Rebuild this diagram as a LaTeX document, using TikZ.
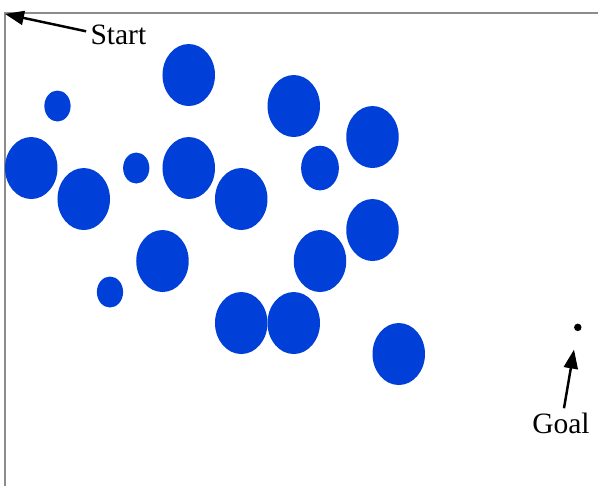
\documentclass[tikz,border=0pt]{standalone}
\usepackage{fontspec}
\setmainfont{Liberation Serif}
\usepackage{tikz}
\usetikzlibrary{arrows.meta,positioning}
\usepackage{xcolor}
\definecolor{obstblue}{RGB}{0,64,216}
\definecolor{framegrey}{RGB}{140,140,140}

\begin{document}
\begin{tikzpicture}[
    x=0.525cm, y=-0.62cm,
    obstacle/.style={fill=obstblue},
    pointer/.style={-{Triangle[length=0.38cm,width=0.28cm]}, line width=1.4pt},
    marker/.style={font=\fontsize{16.8}{20}\selectfont, inner sep=0.08cm},
    >=Stealth
]
\useasboundingbox (-0.19,-0.42) rectangle (22.59,15.26);

% field border
\draw[framegrey, line width=1.2pt] (0,15.26) |- (22.59,0);

% obstacles: x, y, radius
\foreach \cx/\cy/\r in {7/2/1, 2/3/0.5, 11/3/1, 14/4/1, 1/5/1, 5/5/0.5,
    7/5/1, 12/5/0.72, 3/6/1, 9/6/1, 14/7/1, 6/8/1, 12/8/1, 4/9/0.5,
    9/10/1, 11/10/1, 15/11/1}
    \fill[obstacle] (\cx,\cy) ellipse [x radius=\r*0.525cm, y radius=\r*0.62cm];

\coordinate (corner) at (0,0.03);
\coordinate (goal) at (21.82,10.14);
\fill (goal) circle [radius=0.075cm];

\node[marker, anchor=base] (starttxt) at (4.32,1.03) {Start};
\node[marker, anchor=base] (goaltxt) at (21.18,13.55) {Goal};

\draw[pointer] ([yshift=0.08cm]starttxt.west) -- (corner);
\draw[pointer, shorten >=0.45cm] ([xshift=0.06cm]goaltxt.north) -- (goal);
\end{tikzpicture}
\end{document}
